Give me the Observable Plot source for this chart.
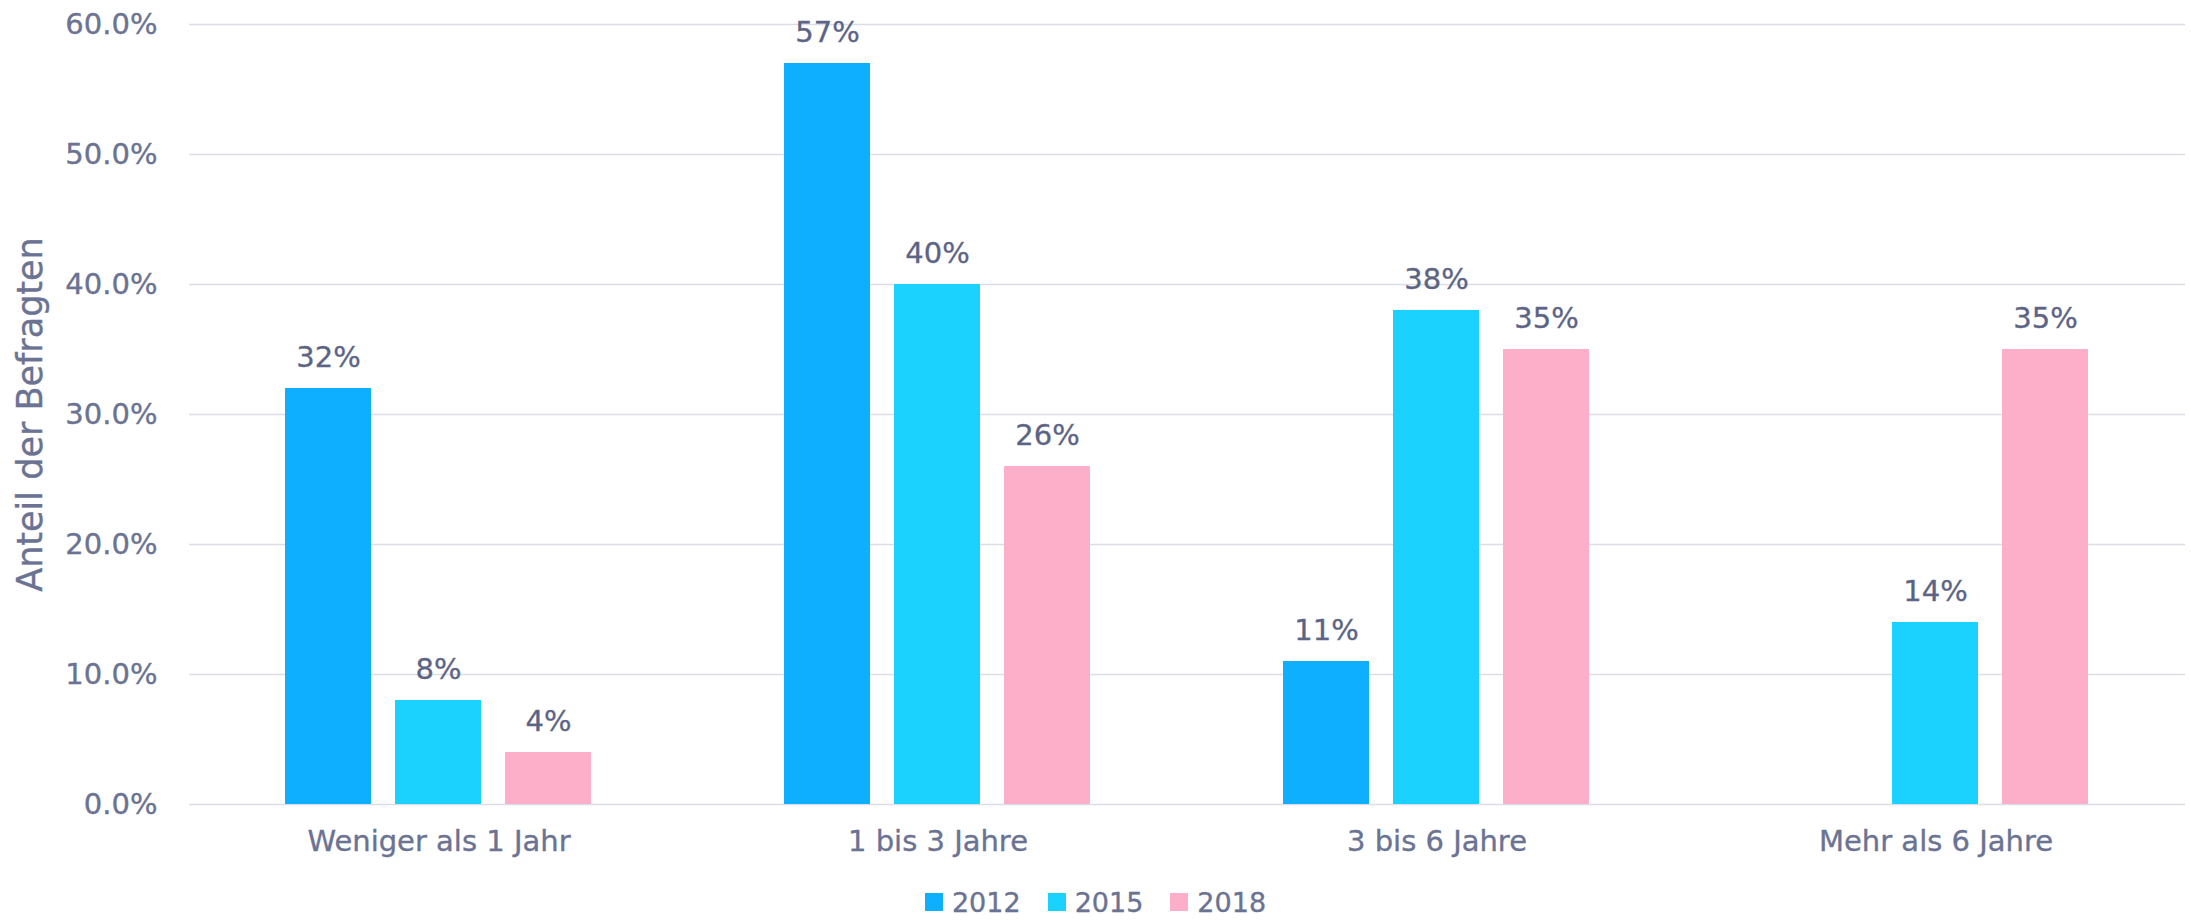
<!DOCTYPE html>
<html>
<head>
<meta charset="utf-8">
<script src="https://cdn.jsdelivr.net/npm/d3@7"></script>
<script src="https://cdn.jsdelivr.net/npm/@observablehq/plot@0.6"></script>
<style>
  html, body { margin: 0; padding: 0; background: #fff; }
  #chart svg { display: block; }
  #chart svg text { stroke: currentColor; stroke-width: 0.35px; }
  #legend { display: flex; justify-content: center; align-items: center; gap: 27px;
    font-family: "DejaVu Sans", sans-serif; font-size: 27px; color: #6b7393; height: 52px;
    padding-top: 16px; box-sizing: border-box; -webkit-text-stroke: 0.35px #6b7393; }
  #legend .item { display: flex; align-items: center; gap: 9px; }
  #legend .sw { width: 18px; height: 18px; display: inline-block; }
</style>
</head>
<body>
<div id="chart"></div>
<div id="legend"></div>
<script>
const categories = ["Weniger als 1 Jahr", "1 bis 3 Jahre", "3 bis 6 Jahre", "Mehr als 6 Jahre"];
const years = ["2012", "2015", "2018"];
const values2012 = [32, 57, 11, null];
const values2015 = [8, 40, 38, 14];
const values2018 = [4, 26, 35, 35];
const colors = ["#0eafff", "#1ad2fd", "#fdafca"];
const yTicks = [0, 10, 20, 30, 40, 50, 60];
const yTitle = "Anteil der Befragten";

const series = [values2012, values2015, values2018];
const data = [];
categories.forEach((c, i) => {
  years.forEach((y, j) => {
    data.push({cat: c, year: y, value: series[j][i]});
  });
});
const shown = data.filter(d => d.value != null);

const textColor = "#6b7393";

const chart = Plot.plot({
  width: 2191,
  height: 868,
  marginTop: 24,
  marginBottom: 64,
  marginLeft: 189,
  marginRight: 6,
  style: {fontFamily: "DejaVu Sans, sans-serif", fontSize: "29px", color: textColor, background: "#fff"},
  fx: {domain: categories, padding: 0, label: null, axis: "bottom", tickSize: 0, tickPadding: 26},
  x: {domain: years, paddingInner: 0.214, paddingOuter: 0.861, axis: null},
  y: {domain: [0, 60], ticks: yTicks, tickFormat: d => d.toFixed(1) + "%", label: null},
  color: {domain: years, range: colors},
  marks: [
    Plot.gridY(yTicks, {stroke: "#dcdde5", strokeOpacity: 1, strokeWidth: 1.5}),
    Plot.axisY(yTicks, {tickSize: 0, tickPadding: 32, tickFormat: d => d.toFixed(1) + "%", fill: textColor, label: null}),
    Plot.axisY([], {label: yTitle, labelAnchor: "center", labelArrow: "none", labelOffset: 172,
      fontSize: 35, fill: textColor, tickSize: 0}),
    Plot.barY(shown, {fx: "cat", x: "year", y: "value", fill: "year"}),
    Plot.text(shown, {fx: "cat", x: "year", y: "value", text: d => d.value + "%",
      lineAnchor: "bottom", dy: -22, fill: "#5b6282", fontSize: 29})
  ]
});
document.getElementById("chart").appendChild(chart);

const legend = document.getElementById("legend");
years.forEach((y, i) => {
  const item = document.createElement("div");
  item.className = "item";
  const sw = document.createElement("span");
  sw.className = "sw";
  sw.style.background = colors[i];
  const t = document.createElement("span");
  t.textContent = y;
  item.appendChild(sw);
  item.appendChild(t);
  legend.appendChild(item);
});
</script>
</body>
</html>
